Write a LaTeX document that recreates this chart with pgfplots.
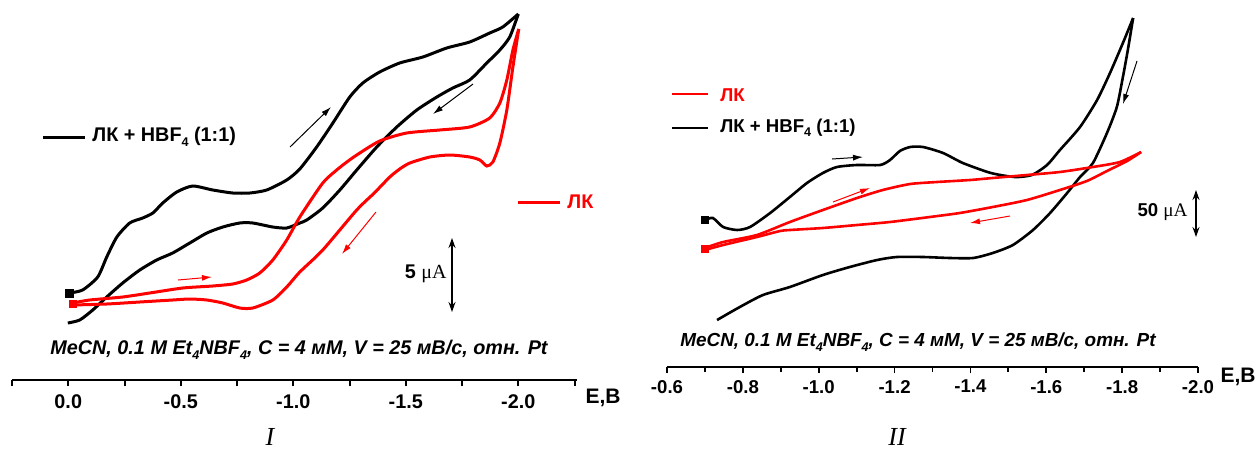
\documentclass[border=0pt]{standalone}
\usepackage{pgfplots}
\pgfplotsset{compat=1.18}
\usepackage{fontspec}
\setmainfont{Liberation Sans}
\newfontfamily\serif{Liberation Serif}
\usetikzlibrary{arrows.meta}
\definecolor{cvred}{RGB}{255,0,0}

\newcommand{\lbl}{\bfseries\fontsize{9.9}{11}\selectfont}
\newcommand{\lblb}{\bfseries\fontsize{9.3}{10}\selectfont}
\newcommand{\sub}[1]{\raisebox{-0.45ex}{\fontsize{6.3}{6}\selectfont #1}}

\begin{document}
\begin{tikzpicture}
\path[use as bounding box] (0,0) rectangle (629pt,225.5pt);

% ---------------- Panel I ----------------
\begin{axis}[
  at={(6pt,35.5pt)}, anchor=south west, scale only axis,
  width=282.4pt, height=190pt,
  xmin=-2.26, xmax=0.25, ymin=0, ymax=380, x dir=reverse,
  axis x line=bottom, axis y line=none,
  axis line style={-, line width=1pt},
  xtick={0,-0.5,-1,-1.5,-2}, xticklabels={0.0,-0.5,-1.0,-1.5,-2.0},
  minor xtick={0.25,-0.25,-0.75,-1.25,-1.75,-2.25},
  xtick align=outside, major tick length=3pt, minor tick length=3pt,
  every tick/.style={line width=1pt, black},
  xticklabel style={font=\lbl, yshift=-1pt},
  clip=false,
]
% black: LK + HBF4, forward
\addplot[black, line width=1.5pt, smooth, tension=0.4] coordinates {
(-0.005,87) (-0.064,90) (-0.131,103) (-0.171,123) (-0.216,143) (-0.273,157) (-0.331,162) (-0.376,167) (-0.420,177) (-0.482,188) (-0.553,194) (-0.642,190) (-0.731,187) (-0.807,187) (-0.882,190) (-0.971,200) (-1.029,211) (-1.104,233) (-1.176,257) (-1.251,283) (-1.309,297) (-1.384,308) (-1.473,317) (-1.576,323) (-1.682,332) (-1.784,338) (-1.873,347) (-1.931,353) (-2.0,366)};
% black reverse
\addplot[black, line width=1.5pt, smooth, tension=0.4] coordinates {
(-2.0,366) (-1.962,343) (-1.918,330) (-1.860,317) (-1.784,300) (-1.709,292) (-1.638,283) (-1.549,270) (-1.460,253) (-1.371,233) (-1.282,210) (-1.207,190) (-1.131,172) (-1.060,160) (-1.029,157) (-0.971,152) (-0.909,153) (-0.820,157) (-0.762,157) (-0.687,153) (-0.616,147) (-0.540,137) (-0.464,127) (-0.393,120) (-0.318,110) (-0.242,97) (-0.171,83) (-0.109,70) (-0.051,60) (0.002,57)};
% red: LK forward
\addplot[cvred, line width=1.5pt, smooth, tension=0.4] coordinates {
(-0.020,77) (-0.096,80) (-0.242,83) (-0.362,87) (-0.509,92) (-0.642,94) (-0.731,96) (-0.793,100) (-0.851,107) (-0.909,120) (-0.971,140) (-1.029,163) (-1.131,197) (-1.193,210) (-1.238,218) (-1.282,225) (-1.384,239) (-1.504,247) (-1.651,250) (-1.784,253) (-1.873,262) (-1.918,277) (-1.949,300) (-1.976,330) (-2.002,351)};
% red reverse
\addplot[cvred, line width=1.5pt, smooth, tension=0.4] coordinates {
(-2.002,351) (-1.976,313) (-1.949,270) (-1.918,237) (-1.887,218) (-1.860,214) (-1.829,220) (-1.784,223) (-1.696,225) (-1.607,223) (-1.518,217) (-1.473,211) (-1.429,203) (-1.360,187) (-1.282,170) (-1.131,130) (-1.029,108) (-0.971,93) (-0.909,80) (-0.820,72) (-0.762,72) (-0.687,77) (-0.616,80) (-0.540,81) (-0.464,80) (-0.318,78) (-0.171,76) (-0.020,75)};
\addplot[only marks, mark=square*, mark size=2pt, black] coordinates {(-0.007,87)};
\addplot[only marks, mark=square*, mark size=1.8pt, cvred] coordinates {(-0.020,76)};
\end{axis}

% ---------------- Panel II ----------------
\begin{axis}[
  at={(333.5pt,42pt)}, anchor=south west, scale only axis,
  width=265.5pt, height=183.5pt,
  xmin=-2.0, xmax=-0.6, ymin=0, ymax=367, x dir=reverse,
  axis x line=bottom, axis y line=none,
  axis line style={-, line width=0.9pt},
  xtick={-0.6,-0.8,-1.0,-1.2,-1.4,-1.6,-1.8,-2.0},
  xticklabels={-0.6,-0.8,-1.0,-1.2,-1.4,-1.6,-1.8,-2.0},
  minor xtick={-0.7,-0.9,-1.1,-1.3,-1.5,-1.7,-1.9},
  xtick align=outside, major tick length=3pt, minor tick length=2.5pt,
  every tick/.style={line width=0.9pt, black},
  xticklabel style={font=\lblb, yshift=0pt},
  clip=false,
]
\addplot[black, line width=1.3pt, smooth, tension=0.4] coordinates {
(-0.700,147) (-0.721,149) (-0.748,140) (-0.785,137) (-0.819,140) (-0.872,154) (-0.924,170) (-0.969,184) (-1.011,194) (-1.048,200) (-1.101,202) (-1.162,202) (-1.188,207) (-1.214,216) (-1.241,220) (-1.275,220) (-1.328,214) (-1.380,204) (-1.454,194) (-1.517,190) (-1.562,192) (-1.602,202) (-1.636,217) (-1.689,240) (-1.734,267) (-1.768,294) (-1.802,324) (-1.829,349)};
\addplot[black, line width=1.3pt, smooth, tension=0.4] coordinates {
(-1.829,349) (-1.815,317) (-1.802,290) (-1.786,260) (-1.760,234) (-1.723,204) (-1.689,190) (-1.655,174) (-1.610,154) (-1.565,137) (-1.512,122) (-1.459,114) (-1.407,109) (-1.346,109) (-1.275,110) (-1.206,110) (-1.154,107) (-1.082,100) (-1.011,92) (-0.924,80) (-0.853,72) (-0.792,60) (-0.732,47)};
\addplot[cvred, line width=1.3pt, smooth, tension=0.4] coordinates {
(-0.700,119) (-0.748,125) (-0.837,132) (-0.924,145) (-1.011,157) (-1.101,169) (-1.169,177) (-1.241,183) (-1.312,185) (-1.399,187) (-1.459,189) (-1.549,192) (-1.636,195) (-1.723,200) (-1.794,205) (-1.850,215)};
\addplot[cvred, line width=1.3pt, smooth, tension=0.4] coordinates {
(-1.850,215) (-1.813,206) (-1.760,196) (-1.707,186) (-1.636,177) (-1.549,167) (-1.459,160) (-1.372,154) (-1.293,150) (-1.188,145) (-1.101,142) (-1.011,139) (-0.924,137) (-0.898,136) (-0.837,130) (-0.748,122) (-0.700,117)};
\addplot[only marks, mark=square*, mark size=1.6pt, black] coordinates {(-0.700,147)};
\addplot[only marks, mark=square*, mark size=1.6pt, cvred] coordinates {(-0.700,118)};
\end{axis}

% ---------------- annotations (pixel frame) ----------------
\begin{scope}[x=0.5pt, y=-0.5pt, yshift=225.5pt]
% Panel I
\draw[black, line width=1.5pt] (43,137) -- (85,137);
\node[anchor=west, inner sep=0pt, font=\lbl] at (92,137) {ЛК + HBF\sub{4} (1:1)};
\draw[cvred, line width=1.5pt] (518,202) -- (560,202);
\node[anchor=west, inner sep=0pt, font=\lbl, text=cvred] at (567,202) {ЛК};
\node[inner sep=0pt, font=\bfseries\itshape\fontsize{9.9}{11}\selectfont] at (299,350) {MeCN, 0.1 M Et\sub{4}NBF\sub{4}, C = 4 мМ, V = 25 мВ/с, отн. Pt};
\node[inner sep=0pt, font=\bfseries\fontsize{10.5}{12}\selectfont] at (603,398) {E,B};
\node[inner sep=0pt, font=\serif\itshape\fontsize{13}{14}\selectfont] at (270,437) {I};
\draw[{Stealth[length=5pt,width=3.5pt]}-{Stealth[length=5pt,width=3.5pt]}, line width=0.7pt] (452,238) -- (452,312);
\node[anchor=east, inner sep=0pt] at (447,274) {\lbl 5 {\serif\mdseries\fontsize{10}{11}\selectfont μA}};
\draw[-{Latex[length=5pt,width=3pt]}, line width=0.5pt] (290,147) -- (331,107);
\draw[-{Latex[length=5pt,width=3pt]}, line width=0.5pt] (473,84) -- (433,114);
\draw[cvred, -{Latex[length=5pt,width=3pt]}, line width=0.5pt] (178,280) -- (212,277);
\draw[cvred, -{Latex[length=5pt,width=3pt]}, line width=0.5pt] (376,212) -- (342,254);
% Panel II
\draw[cvred, line width=1.3pt] (672,94) -- (708,94);
\node[anchor=west, inner sep=0pt, font=\lblb, text=cvred] at (720,95) {ЛК};
\draw[black, line width=1.3pt] (672,128) -- (708,128);
\node[anchor=west, inner sep=0pt, font=\lblb] at (720,128) {ЛК + HBF\sub{4} (1:1)};
\node[inner sep=0pt, font=\bfseries\itshape\fontsize{9.45}{10}\selectfont] at (918,342) {MeCN, 0.1 M Et\sub{4}NBF\sub{4}, C = 4 мМ, V = 25 мВ/с, отн. Pt};
\node[inner sep=0pt, font=\bfseries\fontsize{10.5}{12}\selectfont] at (1238,377) {E,B};
\node[inner sep=0pt, font=\serif\itshape\fontsize{13}{14}\selectfont] at (897,437) {II};
\draw[{Stealth[length=5pt,width=3.5pt]}-{Stealth[length=5pt,width=3.5pt]}, line width=0.7pt] (1196,190) -- (1196,237);
\node[anchor=east, inner sep=0pt] at (1188,212) {\lblb 50 {\serif\mdseries\fontsize{9.6}{10}\selectfont μA}};
\draw[-{Latex[length=5pt,width=3pt]}, line width=0.5pt] (832,159) -- (863,157);
\draw[-{Latex[length=5pt,width=3pt]}, line width=0.5pt] (1137,61) -- (1123,104);
\draw[cvred, -{Latex[length=5pt,width=3pt]}, line width=0.5pt] (833,202) -- (870,188);
\draw[cvred, -{Latex[length=5pt,width=3pt]}, line width=0.5pt] (1010,216) -- (970,223);
\end{scope}
\end{tikzpicture}
\end{document}
